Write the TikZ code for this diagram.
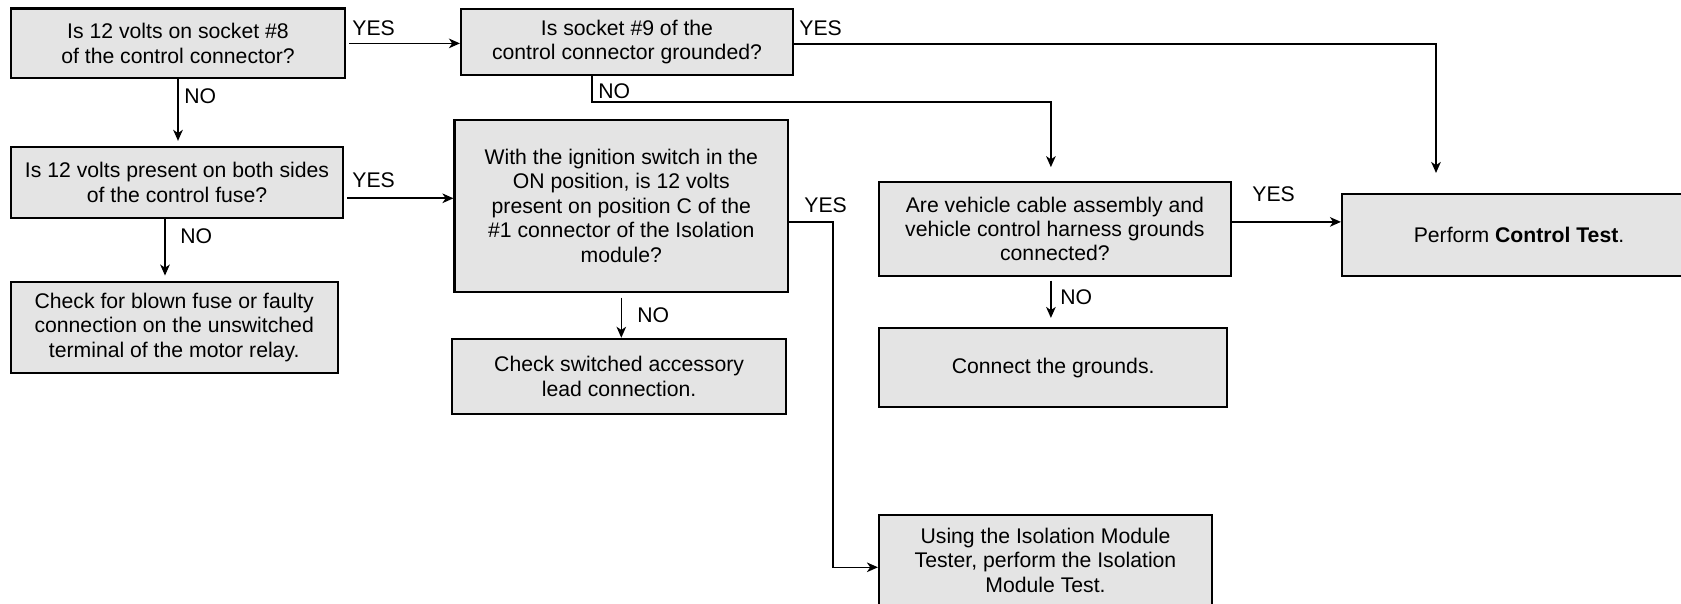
\documentclass[tikz,border=0pt]{standalone}
\usepackage{fontspec}
\setmainfont{Liberation Sans}
\usetikzlibrary{arrows.meta}
\definecolor{boxgray}{RGB}{228,228,228}
\begin{document}
\begin{tikzpicture}[x=0.5pt,y=-0.5pt,
  box/.style={draw, line width=1.05pt, fill=boxgray, align=center, inner sep=0pt,
    font=\fontsize{10.6}{12.2}\selectfont},
  lbl/.style={anchor=west, inner sep=0pt, font=\fontsize{10.6}{12.2}\selectfont},
  arr/.style={-{Stealth[length=5.5pt,width=4.8pt,inset=1.6pt]}, line width=0.8pt}]
\useasboundingbox (0,0) rectangle (1681,604);
\clip (0,0) rectangle (1681,604);
\fill[white] (0,0) rectangle (1681,604);

\node[box, minimum width=167.3pt, minimum height=34.9pt] (A) at (178,43.4)
  {Is 12 volts on socket \#8\\of the control connector?};
\node[box, minimum width=166pt, minimum height=33.2pt] (B) at (627,41.8)
  {Is socket \#9 of the\\control connector grounded?};
\node[box, minimum width=166.2pt, minimum height=35.4pt] (C) at (177,182.3)
  {Is 12 volts present on both sides\\of the control fuse?};
\node[box, minimum width=163.5pt, minimum height=45.5pt] (D) at (174.2,327.5)
  {Check for blown fuse or faulty\\connection on the unswitched\\terminal of the motor relay.};
\node[box, minimum width=166.8pt, minimum height=85.8pt] (E) at (621.3,205.8)
  {With the ignition switch in the\\ON position, is 12 volts\\present on position C of the\\\#1 connector of the Isolation\\module?};
\node[box, minimum width=166.7pt, minimum height=37.5pt] (F) at (619.1,376.3)
  {Check switched accessory\\lead connection.};
\node[box, minimum width=175.9pt, minimum height=46.7pt] (G) at (1054.9,228.9)
  {Are vehicle cable assembly and\\vehicle control harness grounds\\connected?};
\node[box, minimum width=174.2pt, minimum height=39.7pt] (K) at (1053.2,367.7)
  {Connect the grounds.};
\node[box, minimum width=177pt, minimum height=40.8pt] (H) at (1519,234.8)
  {Perform \textbf{Control Test}.};
\node[box, minimum width=166.5pt, minimum height=45.7pt] (I) at (1045.5,560.3)
  {Using the Isolation Module\\Tester, perform the Isolation\\Module Test.};

% A -> B (YES)
\draw[arr, shorten <=1.5pt] (A.east) -- (A.east -| B.west);
\node[lbl] (yA) at (352,28) {YES};
% A -> C (NO)
\draw[arr, shorten >=2.5pt] (A.south) -- (A.south |- C.north);
\node[lbl] (nA) at (184,96) {NO};
% B -> H (YES)
\coordinate (bh) at (1436,44);
\draw[arr, shorten >=10pt] (B.east |- bh) -- (bh) -- (bh |- H.north);
\node[lbl] (yB) at (799,28) {YES};
% B -> G (NO)
\coordinate (bn) at (592,102);
\draw[arr, shorten >=7pt] (bn |- B.south) -- (bn) -| ([xshift=-2pt]G.north);
\node[lbl] (nB) at (598,91) {NO};
% C -> E (YES)
\draw[arr, shorten <=1.5pt] ([yshift=-8pt]C.east) -- ([yshift=-8pt]C.east -| E.west);
\node[lbl] (yC) at (352,180) {YES};
% C -> D (NO)
\draw[arr, shorten >=2.7pt] ([xshift=-6pt]C.south) -- ([xshift=-6pt]C.south |- D.north);
\node[lbl] (nC) at (180,236) {NO};
% E -> I (YES)
\draw[arr] ([yshift=-8pt]E.east) -- ++(22pt,0) |- ([yshift=-3.5pt]I.west);
\node[lbl] (yE) at (804,205) {YES};
% E -> F (NO)
\draw[arr, shorten <=2.5pt] (E.south) -- (E.south |- F.north);
\node[lbl] (nE) at (637,315) {NO};
% G -> H (YES)
\draw[arr] ([yshift=3.5pt]G.east) -- ([yshift=3.5pt]G.east -| H.west);
\node[lbl] (yG) at (1252,194) {YES};
% G -> K (NO)
\draw[arr, shorten <=2pt, shorten >=4.5pt] ([xshift=-2pt]G.south) -- ([xshift=-2pt]G.south |- K.north);
\node[lbl] (nG) at (1060,297) {NO};
\end{tikzpicture}
\end{document}
